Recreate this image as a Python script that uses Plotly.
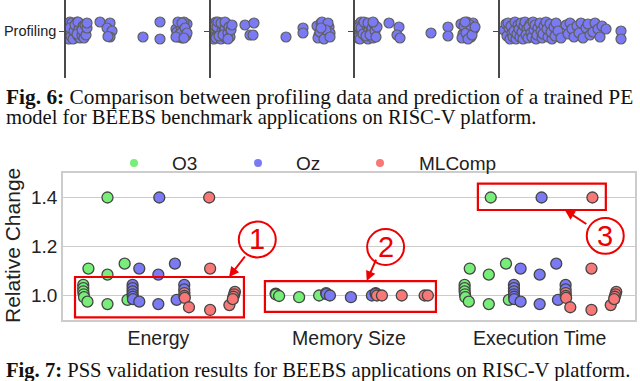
import plotly.graph_objects as go

# ---------------- Fig. 6 strip: profiling runs of four applications ----------------
# x = measured value (arbitrary units per panel), y = strip jitter
prof1_x = [3, 4, 3, 5, 4, 6, 3, 7, 5, 8, 6, 9, 4, 10, 7, 11, 8, 12, 9, 13, 14, 11, 15, 16, 12, 17, 18, 16, 19, 20, 21, 21,
           34, 44, 41, 46, 44, 42, 77, 94, 94,
           110, 112, 114, 111, 115, 116, 113, 117, 119, 112, 120, 115, 121, 118, 116, 119, 121, 110, 118]
prof1_y = [0.08, 0.04, -0.02, -0.07, 0.09, 0.01, -0.08, 0.06, -0.05, -0.01, 0.08, -0.07, 0.03, 0.04, -0.08, 0.09, 0.00,
           -0.05, 0.06, 0.02, -0.07, -0.03, 0.07, -0.04, 0.09, 0.05, -0.07, 0.01, 0.06, -0.04, 0.03, 0.08,
           0.09, 0.08, 0.03, 0.00, -0.06, -0.055, -0.06, 0.09, -0.08,
           0.02, -0.06, 0.08, -0.01, 0.04, -0.07, -0.04, 0.06, 0.00, 0.09, -0.05, -0.02, 0.07, 0.09, 0.08, 0.03,
           -0.02, -0.06, -0.07]

prof2_x = [2, 3, 4, 3, 5, 6, 4, 7, 5, 8, 9, 6, 10, 7, 11, 12, 8, 13, 10, 14, 15, 12, 16, 17, 14, 18, 19, 20, 21, 17,
           34, 43, 39, 42, 75, 92, 92,
           106, 108, 110, 107, 112, 114, 109, 116, 118, 111, 119, 113, 117, 115, 119, 110]
prof2_y = [0.07, -0.03, 0.02, -0.08, 0.09, -0.05, 0.05, 0.01, -0.07, 0.08, -0.02, 0.04, -0.08, 0.09, 0.00, 0.06, -0.05,
           -0.01, 0.08, 0.03, -0.07, -0.04, 0.07, -0.02, 0.09, 0.04, -0.06, 0.01, 0.06, -0.08,
           0.06, 0.08, -0.04, -0.04, -0.06, 0.03, -0.02,
           0.05, -0.04, 0.08, -0.07, 0.02, 0.07, -0.01, -0.05, 0.04, 0.09, -0.02, -0.08, 0.08, 0.01, -0.06, 0.03]

prof3_x = [3, 4, 5, 3, 6, 4, 7, 8, 5, 9, 10, 6, 11, 8, 12, 13, 9, 14, 11, 15, 16, 13, 17, 18, 15, 19, 20, 21, 22, 18,
           34, 44, 42, 45, 76, 93, 93,
           106, 108, 110, 107, 112, 114, 109, 116, 118, 111, 119, 113, 117, 115, 120, 110]
prof3_y = [0.06, -0.04, 0.02, -0.07, 0.09, 0.04, -0.02, 0.07, -0.08, 0.00, 0.08, 0.03, -0.06, -0.03, 0.05, -0.08, 0.09,
           0.01, -0.05, 0.06, -0.02, 0.08, 0.03, -0.07, -0.04, 0.07, 0.00, -0.06, 0.04, 0.09,
           0.08, 0.04, -0.04, -0.07, -0.02, 0.04, -0.05,
           0.07, -0.03, 0.03, -0.07, 0.09, 0.00, 0.05, -0.06, 0.08, -0.02, 0.02, -0.08, -0.04, 0.06, 0.04, 0.09]

prof4_x = [4, 6, 7, 9, 10, 8, 12, 11, 13, 15, 14, 16, 18, 17, 19, 21, 20, 22, 24, 23, 25, 27, 26, 28, 30, 29, 31, 33,
           32, 34, 36, 35, 38, 37, 40, 42, 41, 44, 43, 46, 48, 47, 50, 52, 51, 54, 56, 55, 58, 61, 66, 68, 70, 72, 74,
           77, 79, 81, 83, 86, 88, 90, 93, 95, 98, 100, 102, 106, 121, 121]
prof4_y = [0.01, 0.07, -0.05, 0.03, -0.08, 0.08, -0.02, 0.05, -0.06, 0.09, 0.00, -0.08, 0.06, -0.03, 0.02, 0.08, -0.06,
           -0.01, 0.05, -0.08, 0.09, 0.02, -0.04, -0.07, 0.07, 0.04, -0.02, 0.09, -0.06, 0.01, -0.08, 0.06, 0.03,
           -0.04, 0.08, -0.07, 0.00, 0.05, -0.03, 0.09, -0.06, 0.02, 0.07, -0.08, -0.01, 0.04, 0.08, -0.05, 0.00,
           -0.07, 0.06, -0.03, 0.08, 0.02, -0.06, 0.05, -0.02, 0.08, -0.07, 0.03, 0.07, -0.04, -0.01, 0.08, 0.02,
           -0.06, 0.05, 0.02, 0.00, -0.08]

# ---------------- Fig. 7: PSS validation (relative change) ----------------
categories = ['Energy', 'Memory Size', 'Execution Time']
hues = ['O3', 'Oz', 'MLComp']
colors = ['#77ee77', '#7a7af5', '#f87878']

energy_o3 = [1.40, 1.11, 1.085, 1.13, 1.043, 1.03, 1.017, 1.005, 0.993, 0.975, 0.965, 0.982]
energy_o3_jit = [0.0, -0.10, 0.0, 0.09, -0.127, -0.127, -0.127, -0.125, -0.123, -0.105, 0.0, 0.105]
energy_oz = [1.40, 1.11, 1.085, 1.13, 1.043, 1.03, 1.017, 1.005, 0.995, 0.985, 0.975, 0.965, 0.982, 1.043, 1.025]
energy_oz_jit = [0.005, -0.10, 0.0, 0.087, -0.135, -0.135, -0.135, -0.135, -0.134, -0.133, -0.10, 0.0, 0.096,
                 0.136, 0.136]
energy_ml = [1.40, 1.11, 1.01, 0.998, 0.99, 0.952, 0.941, 0.961, 1.015, 1.005, 0.995, 0.985]
energy_ml_jit = [0.0, 0.005, -0.13, -0.13, -0.128, -0.106, 0.005, 0.106, 0.135, 0.131, 0.127, 0.124]

memory_o3 = [1.008, 1.006, 1.004, 0.998, 0.993, 1.0]
memory_o3_jit = [-0.118, -0.117, -0.116, -0.10, 0.005, 0.11]
memory_oz = [1.01, 1.006, 1.0, 0.993, 1.0, 1.01, 1.007]
memory_oz_jit = [-0.12, -0.118, -0.10, 0.01, 0.12, 0.14, 0.14]
memory_ml = [1.0, 1.0, 1.0, 1.0, 1.0]
memory_ml_jit = [-0.12, -0.094, 0.01, 0.13, 0.147]

time_o3 = [1.40, 1.11, 1.085, 1.13, 1.043, 1.03, 1.017, 1.005, 0.993, 0.975, 0.965, 0.982]
time_o3_jit = [0.01, -0.10, 0.0, 0.09, -0.127, -0.127, -0.127, -0.125, -0.123, -0.105, 0.0, 0.105]
time_oz = [1.40, 1.11, 1.085, 1.13, 1.043, 1.03, 1.017, 1.005, 0.995, 0.985, 0.975, 0.965, 0.982, 1.043, 1.025]
time_oz_jit = [0.01, -0.10, 0.0, 0.087, -0.135, -0.135, -0.135, -0.135, -0.134, -0.133, -0.10, 0.0, 0.096,
               0.136, 0.136]
time_ml = [1.40, 1.11, 1.01, 0.998, 0.99, 0.952, 0.941, 0.961, 1.015, 1.005, 0.995, 0.985]
time_ml_jit = [0.01, 0.005, -0.13, -0.13, -0.128, -0.106, 0.005, 0.106, 0.135, 0.131, 0.127, 0.124]

values = {
    'O3': [(energy_o3, energy_o3_jit), (memory_o3, memory_o3_jit), (time_o3, time_o3_jit)],
    'Oz': [(energy_oz, energy_oz_jit), (memory_oz, memory_oz_jit), (time_oz, time_oz_jit)],
    'MLComp': [(energy_ml, energy_ml_jit), (memory_ml, memory_ml_jit), (time_ml, time_ml_jit)],
}

W, H = 640, 381
SANS = 'Liberation Sans, Arial, sans-serif'
SERIF = 'Liberation Serif, Times New Roman, serif'
RED = '#ee0000'
dodge = 0.8 / 3

fig = go.Figure()

# top strip panels
prof = [(prof1_x, prof1_y), (prof2_x, prof2_y), (prof3_x, prof3_y), (prof4_x, prof4_y)]
lefts = [66, 211, 355, 500]
layout_axes = {}
for i, ((px, py), left) in enumerate(zip(prof, lefts)):
    n = i + 2
    fig.add_trace(go.Scatter(
        x=px, y=py, mode='markers', xaxis='x%d' % n, yaxis='y%d' % n, showlegend=False, hoverinfo='skip',
        marker=dict(size=10, color='#7a7af5', line=dict(color='#5f5f5f', width=1.2))))
    layout_axes['xaxis%d' % n] = dict(domain=[left / W, (left + 135) / W], range=[0, 135], visible=False,
                                      anchor='y%d' % n)
    layout_axes['yaxis%d' % n] = dict(domain=[1 - 78 / H, 1], range=[-0.47, 0.31], anchor='x%d' % n,
                                      showline=True, linecolor='#4a4a4a', linewidth=1.5, showgrid=False,
                                      zeroline=False, ticks='outside', ticklen=5, tickcolor='#4a4a4a',
                                      tickwidth=1.2, tickvals=[0],
                                      ticktext=['Profiling' if i == 0 else ''],
                                      tickfont=dict(family=SANS, size=14.5, color='#222'))

# Fig. 7 strip plot
for h, hue in enumerate(hues):
    xs, ys = [], []
    for c in range(len(categories)):
        vals, jit = values[hue][c]
        xs += [c + (h - 1) * dodge + j for j in jit]
        ys += vals
    fig.add_trace(go.Scatter(
        x=xs, y=ys, mode='markers', name=hue, showlegend=False, xaxis='x', yaxis='y',
        marker=dict(size=11, color=colors[h], line=dict(color='#454545', width=1.3))))

shapes = []
annotations = []

# red highlight boxes and numbered circles
boxes = [(-0.437, 0.449, 0.911, 1.0755), (0.559, 1.456, 0.933, 1.059), (1.676, 2.347, 1.349, 1.457)]
for x0, x1, y0, y1 in boxes:
    shapes.append(dict(type='rect', xref='x', yref='y', x0=x0, x1=x1, y0=y0, y1=y1,
                       line=dict(color=RED, width=2.2)))
circles = [(0.519, 1.2286, '1'), (1.192, 1.198, '2'), (2.344, 1.2437, '3')]
for cx, cy, label in circles:
    shapes.append(dict(type='circle', xref='x', yref='y', x0=cx - 0.097, x1=cx + 0.097,
                       y0=cy - 0.073, y1=cy + 0.073, line=dict(color=RED, width=2)))
    annotations.append(dict(x=cx, y=cy, xref='x', yref='y', text=label, showarrow=False,
                            font=dict(family=SANS, size=29, color=RED)))
arrows = [(0.371, 1.0755, 17, -22), (1.093, 1.059, 10, -23), (2.132, 1.349, 23, 15)]
for hx, hy, ax, ay in arrows:
    annotations.append(dict(x=hx, y=hy, xref='x', yref='y', text='', showarrow=True, ax=ax, ay=ay,
                            arrowhead=2, arrowsize=1, arrowwidth=2, arrowcolor=RED, standoff=0))

# legend row
for h, hue in enumerate(hues):
    dx = [134, 258, 380][h]
    tx = [170, 294, 417][h]
    shapes.append(dict(type='circle', xref='paper', yref='paper', x0=(dx - 4) / W, x1=(dx + 4) / W,
                       y0=1 - 167 / H, y1=1 - 159 / H, fillcolor=colors[h], line=dict(width=0)))
    annotations.append(dict(x=tx / W, y=1 - 163 / H, xref='paper', yref='paper', text=hue, showarrow=False,
                            xanchor='left', yanchor='middle', font=dict(family=SANS, size=19, color='#222')))

annotations.append(dict(x=12 / W, y=1 - 246 / H, xref='paper', yref='paper', text='Relative Change',
                        textangle=-90, showarrow=False, xanchor='center', yanchor='middle',
                        font=dict(family=SANS, size=21, color='#222')))

# captions
annotations += [
    dict(x=4 / W, y=1 - 97 / H, xref='paper', yref='paper', xanchor='left', yanchor='middle', showarrow=False,
         text='<b>Fig. 6:</b> Comparison between profiling data and prediction of a trained PE',
         font=dict(family=SERIF, size=21.4, color='#111')),
    dict(x=4 / W, y=1 - 117 / H, xref='paper', yref='paper', xanchor='left', yanchor='middle', showarrow=False,
         text='model for BEEBS benchmark applications on RISC-V platform.',
         font=dict(family=SERIF, size=20.6, color='#111')),
    dict(x=4 / W, y=1 - 370 / H, xref='paper', yref='paper', xanchor='left', yanchor='middle', showarrow=False,
         text='<b>Fig. 7:</b> PSS validation results for BEEBS applications on RISC-V platform.',
         font=dict(family=SERIF, size=20.6, color='#111')),
]

fig.update_layout(
    width=W, height=H, margin=dict(l=0, r=0, t=0, b=0),
    paper_bgcolor='white', plot_bgcolor='white', showlegend=False,
    xaxis=dict(domain=[63 / W, 635 / W], range=[-0.5, 2.5], tickvals=[0, 1, 2], ticktext=categories,
               showgrid=False, zeroline=False, showline=True, mirror=True, linecolor='#cccccc', linewidth=1.5,
               ticks='', tickfont=dict(family=SANS, size=19.5, color='#222'), anchor='y'),
    yaxis=dict(domain=[1 - 320 / H, 1 - 173 / H], range=[0.9, 1.5], tickvals=[1.0, 1.2, 1.4],
               ticktext=['1.0', '1.2', '1.4'], showgrid=True, gridcolor='#cccccc', gridwidth=1.2,
               zeroline=False, showline=True, mirror=True, linecolor='#cccccc', linewidth=1.5,
               ticks='', tickfont=dict(family=SANS, size=19, color='#222'), anchor='x'),
    shapes=shapes, annotations=annotations,
    **layout_axes,
)

# the page body has a default 8px margin; remove it so the figure sits at the window origin
fig.write_html('out.html', config={'displayModeBar': False},
               post_script="document.body.style.margin='0';")
